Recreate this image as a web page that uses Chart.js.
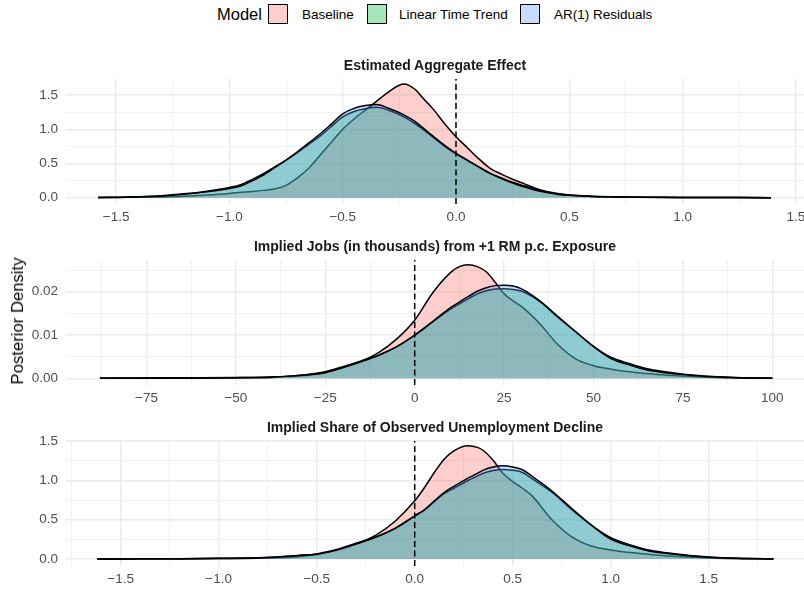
<!DOCTYPE html>
<html><head><meta charset="utf-8">
<script src="https://cdn.jsdelivr.net/npm/chart.js@4"></script>
<style>
html,body{margin:0;padding:0;}
body{width:804px;height:590px;background:#fff;position:relative;overflow:hidden;font-family:"Liberation Sans",Arial,sans-serif;}
.panel{position:absolute;left:0;width:804px;height:167px;}
.ptitle{position:absolute;left:66px;width:738px;text-align:center;font-weight:bold;font-size:14px;color:#1a1a1a;line-height:16px;height:16px;white-space:nowrap;z-index:2;}
.ytitle{position:absolute;left:18px;top:321px;transform:translate(-50%,-50%) rotate(-90deg);font-size:16.7px;color:#000;white-space:nowrap;line-height:18px;}
.leg{position:absolute;white-space:nowrap;line-height:18px;}
.legtitle{font-size:16.5px;color:#000;}
.leglab{font-size:13.5px;color:#000;}
.key{position:absolute;width:20px;height:20px;box-sizing:border-box;border:1.5px solid #000;}
</style>
</head><body>
<div class="leg legtitle" style="left:217px;top:5px;">Model</div>
<div class="key" style="left:268px;top:4px;background:rgba(248,118,109,0.35);"></div>
<div class="leg leglab" id="l0" style="left:302px;top:6px;"></div>
<div class="key" style="left:367px;top:4px;background:rgba(0,186,56,0.35);"></div>
<div class="leg leglab" id="l1" style="left:399px;top:6px;"></div>
<div class="key" style="left:520px;top:4px;background:rgba(97,156,255,0.35);"></div>
<div class="leg leglab" id="l2" style="left:554px;top:6px;"></div>

<div class="panel" style="top:67px;"><canvas id="c0" width="804" height="167"></canvas></div>
<div class="panel" style="top:248px;"><canvas id="c1" width="804" height="167"></canvas></div>
<div class="panel" style="top:429px;"><canvas id="c2" width="804" height="167"></canvas></div>

<div class="ptitle" id="t0" style="top:57px;"></div>
<div class="ptitle" id="t1" style="top:238px;"></div>
<div class="ptitle" id="t2" style="top:419px;"></div>
<div class="ytitle">Posterior Density</div>

<script>
// ---------- data ----------
const seriesNames = ["Baseline", "Linear Time Trend", "AR(1) Residuals"];
const panelTitles = ["Estimated Aggregate Effect", "Implied Jobs (in thousands) from +1 RM p.c. Exposure", "Implied Share of Observed Unemployment Decline"];
const refLineValue = 0;

// Panel 1: Estimated Aggregate Effect
const p1X = [-1.58,-1.45,-1.3,-1.2,-1.1,-1.0,-0.95,-0.9,-0.85,-0.8,-0.75,-0.7,-0.65,-0.6,-0.55,-0.5,-0.45,-0.4,-0.35,-0.3,-0.23,-0.18,-0.15,-0.1,-0.05,0,0.05,0.1,0.15,0.2,0.25,0.3,0.35,0.4,0.45,0.5,0.6,0.7,0.8,0.9,1.0,1.1,1.2,1.3,1.39];
const p1Baseline = [0.002,0.005,0.012,0.022,0.04,0.063,0.078,0.092,0.107,0.13,0.18,0.29,0.43,0.62,0.81,1.0,1.15,1.28,1.41,1.54,1.66,1.58,1.47,1.29,1.08,0.89,0.73,0.57,0.43,0.345,0.27,0.205,0.14,0.09,0.06,0.037,0.018,0.01,0.006,0.004,0.003,0.002,0.0015,0.001,0.001];
const p1Linear = [0.003,0.01,0.03,0.056,0.095,0.15,0.19,0.265,0.35,0.45,0.55,0.66,0.78,0.9,1.04,1.18,1.26,1.30,1.32,1.28,1.18,1.08,1.01,0.88,0.75,0.64,0.545,0.45,0.36,0.29,0.225,0.175,0.125,0.085,0.055,0.038,0.021,0.013,0.008,0.005,0.004,0.003,0.002,0.0015,0.001];
const p1AR = [0.002,0.008,0.025,0.05,0.085,0.135,0.17,0.245,0.33,0.44,0.55,0.67,0.8,0.93,1.075,1.225,1.305,1.345,1.362,1.31,1.21,1.11,1.03,0.895,0.765,0.648,0.55,0.45,0.356,0.28,0.215,0.16,0.11,0.075,0.048,0.034,0.019,0.012,0.008,0.005,0.004,0.003,0.002,0.0015,0.001];

// Panel 2: Implied Jobs
const p2X = [-88,-75,-60,-50,-40,-35,-30,-25,-20,-15,-10,-5,0,5,10,12.5,15,17.5,20,22.5,25,27.5,30,35,40,45,50,55,60,65,70,75,80,90,100];
const p2Baseline = [0.00002,0.00004,0.00007,0.0001,0.0002,0.0004,0.0007,0.0014,0.0025,0.0039,0.006,0.0091,0.0134,0.0197,0.0244,0.0258,0.0262,0.0258,0.0246,0.0222,0.0195,0.0179,0.0165,0.0126,0.0078,0.0045,0.0029,0.0021,0.0015,0.0011,0.00075,0.0005,0.0003,0.0001,0.00002];
const p2Linear = [0.00002,0.00004,0.0001,0.00017,0.0003,0.0005,0.0009,0.0015,0.0027,0.004,0.0054,0.0073,0.0099,0.013,0.016,0.0172,0.0184,0.0195,0.0202,0.0206,0.0207,0.0205,0.0201,0.0177,0.0141,0.0107,0.0074,0.0048,0.0034,0.0022,0.0015,0.00095,0.0006,0.0002,0.00002];
const p2AR = [0.00002,0.00003,0.00008,0.00015,0.0003,0.0005,0.0008,0.0013,0.0025,0.0038,0.0053,0.0073,0.01,0.0131,0.0163,0.0176,0.0189,0.0201,0.0209,0.0214,0.0215,0.0213,0.0206,0.0179,0.0143,0.0108,0.0073,0.0045,0.0031,0.0019,0.0013,0.00085,0.0005,0.00015,0.00002];

// Panel 3: Implied Share of Observed Unemployment Decline
const p3X = [-1.62,-1.4,-1.2,-1.0,-0.8,-0.7,-0.6,-0.5,-0.4,-0.3,-0.2,-0.1,0,0.05,0.1,0.15,0.2,0.27,0.32,0.35,0.4,0.45,0.5,0.55,0.6,0.7,0.8,0.9,1.0,1.1,1.2,1.3,1.4,1.5,1.6,1.7,1.83];
const p3Baseline = [0.001,0.002,0.003,0.005,0.009,0.015,0.03,0.058,0.11,0.19,0.3,0.48,0.74,0.91,1.1,1.27,1.375,1.44,1.42,1.38,1.255,1.09,0.985,0.9,0.8,0.5,0.285,0.165,0.115,0.082,0.058,0.038,0.025,0.013,0.007,0.004,0.001];
const p3Linear = [0.001,0.002,0.004,0.008,0.015,0.027,0.045,0.065,0.12,0.2,0.28,0.39,0.545,0.62,0.73,0.83,0.9,0.995,1.055,1.09,1.125,1.14,1.13,1.1,1.02,0.85,0.63,0.43,0.27,0.18,0.11,0.075,0.045,0.026,0.014,0.007,0.001];
const p3AR = [0.001,0.002,0.004,0.007,0.013,0.025,0.042,0.06,0.113,0.19,0.275,0.39,0.55,0.63,0.74,0.845,0.925,1.025,1.09,1.13,1.17,1.185,1.17,1.135,1.05,0.865,0.645,0.435,0.253,0.165,0.1,0.066,0.04,0.022,0.012,0.006,0.001];

// Tick values and labels
const p1XTicks = [-1.5,-1,-0.5,0,0.5,1,1.5];
const p1XLabels = ["\u22121.5","\u22121.0","\u22120.5","0.0","0.5","1.0","1.5"];
const p1XMinor = [-1.25,-0.75,-0.25,0.25,0.75,1.25];
const p1YTicks = [0,0.5,1,1.5];
const p1YLabels = ["0.0","0.5","1.0","1.5"];
const p1YMinor = [0.25,0.75,1.25];

const p2XTicks = [-75,-50,-25,0,25,50,75,100];
const p2XLabels = ["\u221275","\u221250","\u221225","0","25","50","75","100"];
const p2XMinor = [-87.5,-62.5,-37.5,-12.5,12.5,37.5,62.5,87.5];
const p2YTicks = [0,0.01,0.02];
const p2YLabels = ["0.00","0.01","0.02"];
const p2YMinor = [0.005,0.015,0.025];

const p3XTicks = [-1.5,-1,-0.5,0,0.5,1,1.5];
const p3XLabels = ["\u22121.5","\u22121.0","\u22120.5","0.0","0.5","1.0","1.5"];
const p3XMinor = [-1.75,-1.25,-0.75,-0.25,0.25,0.75,1.25,1.75];
const p3YTicks = [0,0.5,1,1.5];
const p3YLabels = ["0.0","0.5","1.0","1.5"];
const p3YMinor = [0.25,0.75,1.25];

// ---------- drawing ----------
Chart.defaults.font.family = "'Liberation Sans', Arial, sans-serif";
const fills = ["rgba(248,118,109,0.35)", "rgba(0,186,56,0.35)", "rgba(97,156,255,0.35)"];

function axis(pos, min, max, major, labels, minor, fitSize, pad) {
  const majorSet = new Set(major);
  return {
    type: 'linear', position: pos, min: min, max: max,
    afterBuildTicks: s => { s.ticks = major.concat(minor).sort((a,b)=>a-b).map(v => ({value: v})); },
    afterFit: s => {
      if (pos === 'bottom') s.height = fitSize; else s.width = fitSize;
      s.paddingTop = 0; s.paddingBottom = 0; s.paddingLeft = 0; s.paddingRight = 0;
    },
    border: {display: false},
    grid: {drawTicks: false, color: '#EBEBEB',
      lineWidth: ctx => (ctx.tick && majorSet.has(ctx.tick.value)) ? 1.4 : 0.7},
    ticks: {autoSkip: false, maxRotation: 0, minRotation: 0, padding: pad, color: '#4D4D4D',
      font: {size: 13.5},
      callback: v => { const i = major.indexOf(v); return i >= 0 ? labels[i] : ''; }}
  };
}

function panel(id, xs, base, lin, ar, xr, yr, xt, xl, xm, yt, yl, ym) {
  const mk = arr => xs.map((x, i) => ({x: x, y: arr[i]}));
  const series = [base, lin, ar];
  const ds = series.map((arr, k) => ({
    label: seriesNames[k], data: mk(arr), fill: 'origin',
    backgroundColor: fills[k], borderColor: '#000', borderWidth: 1.5,
    pointRadius: 0, cubicInterpolationMode: 'monotone', order: 3 - k
  }));
  ds.push({label: 'ref', data: [{x: refLineValue, y: yr[0]}, {x: refLineValue, y: yr[1]}],
    fill: false, borderColor: '#000', borderWidth: 1.5, borderDash: [6, 3.5],
    pointRadius: 0, tension: 0, order: 0});
  new Chart(document.getElementById(id), {
    type: 'line',
    data: {datasets: ds},
    options: {
      responsive: false, animation: false, devicePixelRatio: 1,
      layout: {padding: {top: 12, left: 0, right: 0, bottom: 0}, autoPadding: false},
      plugins: {legend: {display: false}, tooltip: {enabled: false}, title: {display: false}},
      scales: {
        x: axis('bottom', xr[0], xr[1], xt, xl, xm, 30, 5),
        y: axis('left', yr[0], yr[1], yt, yl, ym, 66, 8)
      }
    }
  });
}

panel('c0', p1X, p1Baseline, p1Linear, p1AR, [-1.7211, 1.5357], [-0.092, 1.7336], p1XTicks, p1XLabels, p1XMinor, p1YTicks, p1YLabels, p1YMinor);
panel('c1', p2X, p2Baseline, p2Linear, p2AR, [-97.51, 108.86], [-0.00155, 0.02732], p2XTicks, p2XLabels, p2XMinor, p2YTicks, p2YLabels, p2YMinor);
panel('c2', p3X, p3Baseline, p3Linear, p3AR, [-1.779, 1.986], [-0.089, 1.501], p3XTicks, p3XLabels, p3XMinor, p3YTicks, p3YLabels, p3YMinor);

['l0','l1','l2'].forEach((id, i) => document.getElementById(id).textContent = seriesNames[i]);
['t0','t1','t2'].forEach((id, i) => document.getElementById(id).textContent = panelTitles[i]);
</script>
</body></html>
